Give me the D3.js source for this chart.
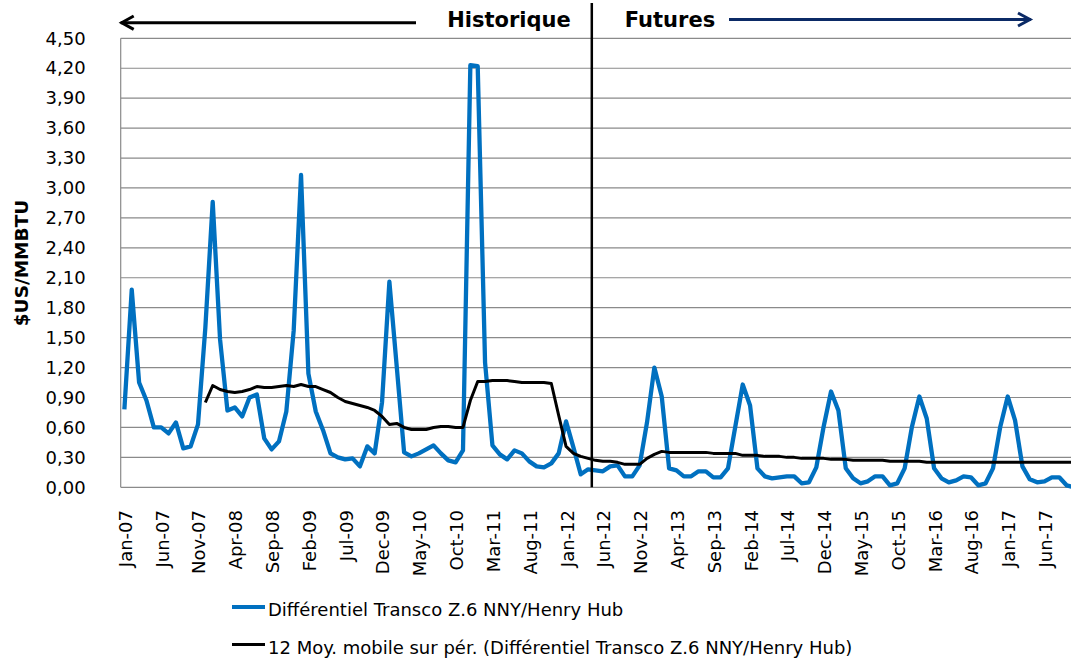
<!DOCTYPE html>
<html>
<head>
<meta charset="utf-8">
<script src="https://cdn.jsdelivr.net/npm/d3@7"></script>
<style>
  body { margin: 0; background: #fff; }
  svg { display: block; font-family: "DejaVu Sans", sans-serif; }
</style>
</head>
<body>
<svg width="1071" height="659"></svg>
<script>
// monthly categories, Jan-07 .. Oct-17
let months = d3.timeMonth.range(new Date(2007, 0, 1), new Date(2017, 10, 1));

// Différentiel Transco Z.6 NNY/Henry Hub ($US/MMBTU)
let diffValues = [
  0.78, 1.98, 1.05, 0.87, 0.60, 0.60, 0.54, 0.65, 0.39, 0.41, 0.63, 1.60,
  2.86, 1.48, 0.77, 0.80, 0.71, 0.90, 0.93, 0.49, 0.38, 0.46, 0.76, 1.57,
  3.13, 1.14, 0.76, 0.57, 0.34, 0.30, 0.28, 0.29, 0.21, 0.41, 0.34, 0.85,
  2.06, 1.21, 0.35, 0.31, 0.34, 0.38, 0.42, 0.34, 0.27, 0.25, 0.37, 4.23,
  4.22, 1.25, 0.42, 0.33, 0.28, 0.37, 0.34, 0.26, 0.21, 0.20, 0.24, 0.34,
  0.66, 0.40, 0.13, 0.18, 0.17, 0.16, 0.21, 0.22, 0.11, 0.11, 0.22, 0.65,
  1.20, 0.91, 0.19, 0.17, 0.11, 0.11, 0.16, 0.16, 0.10, 0.10, 0.19, 0.61,
  1.03, 0.82, 0.19, 0.11, 0.09, 0.10, 0.11, 0.11, 0.04, 0.05, 0.20, 0.61,
  0.96, 0.77, 0.19, 0.09, 0.04, 0.06, 0.11, 0.11, 0.02, 0.04, 0.19, 0.61,
  0.91, 0.69, 0.19, 0.09, 0.05, 0.07, 0.11, 0.10, 0.02, 0.04, 0.19, 0.61,
  0.91, 0.67, 0.21, 0.08, 0.05, 0.06, 0.10, 0.10, 0.02, 0.00
];

// 12 Moy. mobile sur pér. (starts Dec-07)
let maValues = [
  null, null, null, null, null, null, null, null, null, null, null, 0.85,
  1.02, 0.98, 0.96, 0.95, 0.96, 0.98, 1.01, 1.00, 1.00, 1.01, 1.02, 1.01,
  1.03, 1.01, 1.01, 0.98, 0.95, 0.90, 0.86, 0.84, 0.82, 0.80, 0.77, 0.71,
  0.63, 0.64, 0.60, 0.58, 0.58, 0.58, 0.60, 0.61, 0.61, 0.60, 0.60, 0.87,
  1.06, 1.06, 1.07, 1.07, 1.07, 1.06, 1.05, 1.05, 1.05, 1.05, 1.04, 0.72,
  0.41, 0.34, 0.31, 0.29, 0.27, 0.26, 0.26, 0.25, 0.23, 0.23, 0.23, 0.29,
  0.33, 0.36, 0.35, 0.35, 0.35, 0.35, 0.35, 0.35, 0.34, 0.34, 0.34, 0.34,
  0.32, 0.32, 0.32, 0.31, 0.31, 0.31, 0.30, 0.30, 0.29, 0.29, 0.29, 0.29,
  0.28, 0.28, 0.28, 0.27, 0.27, 0.27, 0.27, 0.27, 0.26, 0.26, 0.26, 0.26,
  0.26, 0.25, 0.25, 0.25, 0.25, 0.25, 0.25, 0.25, 0.25, 0.25, 0.25, 0.25,
  0.25, 0.25, 0.25, 0.25, 0.25, 0.25, 0.25, 0.25, 0.25, 0.25
];

let yTicks = [0, 0.3, 0.6, 0.9, 1.2, 1.5, 1.8, 2.1, 2.4, 2.7, 3.0, 3.3, 3.6, 3.9, 4.2, 4.5];
let tickEvery = 5;           // one x label every 5 months
let futuresStart = new Date(2012, 4, 1);

let seriesNames = [
  "Différentiel Transco Z.6 NNY/Henry Hub",
  "12 Moy. mobile sur pér. (Différentiel Transco Z.6 NNY/Henry Hub)"
];

let plotLeft = 120.7, plotTop = 38.3, plotBottom = 487.3,
    bandW = 7.361,
    plotRight = plotLeft + months.length * bandW;

const svg = d3.select("svg");
const fr = d3.formatLocale({decimal: ",", thousands: " ", grouping: [3], currency: ["", "$"]});
const fmt = fr.format(".2f");
const monthFmt = d3.timeFormat("%b-%y");

let x = d3.scaleBand()
    .domain(months.map(d => +d))
    .range([plotLeft, plotRight]);
let cx = d => x(+d) + x.bandwidth() / 2;

let y = d3.scaleLinear()
    .domain([0, 4.5])
    .range([plotBottom, plotTop]);

// gridlines
svg.append("g")
    .selectAll("line")
    .data(yTicks.slice(1))
    .enter()
    .append("line")
    .attr("x1", plotLeft)
    .attr("x2", plotRight)
    .attr("y1", d => y(d))
    .attr("y2", d => y(d))
    .attr("stroke", "#8a8a8a")
    .attr("stroke-width", 1.2);

// plot frame (left + bottom)
svg.append("line")
    .attr("x1", plotLeft).attr("x2", plotLeft)
    .attr("y1", plotTop).attr("y2", plotBottom)
    .attr("stroke", "#8a8a8a").attr("stroke-width", 1.2);
svg.append("line")
    .attr("x1", plotLeft).attr("x2", plotRight)
    .attr("y1", plotBottom).attr("y2", plotBottom)
    .attr("stroke", "#8a8a8a").attr("stroke-width", 1.2);

// y axis labels
let yAxis = svg.append("g")
    .attr("transform", `translate(${plotLeft},0)`)
    .call(d3.axisLeft(y).tickValues(yTicks).tickFormat(fmt).tickSize(0).tickPadding(35));
yAxis.select(".domain").remove();
yAxis.selectAll("text")
    .attr("font-family", "DejaVu Sans")
    .attr("font-size", 18)
    .attr("fill", "#000");

// y title
svg.append("text")
    .attr("transform", `translate(28,263) rotate(-90)`)
    .attr("text-anchor", "middle")
    .attr("font-weight", "bold")
    .attr("font-size", 18.5)
    .text("$US/MMBTU");

// x labels
svg.append("g")
    .selectAll("text")
    .data(months.filter((d, i) => i % tickEvery === 0))
    .enter()
    .append("text")
    .attr("transform", d => `translate(${cx(d) + 1},510) rotate(-90)`)
    .attr("text-anchor", "end")
    .attr("dy", "0.36em")
    .attr("font-size", 18)
    .text(d => monthFmt(d));

// lines
let diffLine = d3.line()
    .x((d, i) => cx(months[i]))
    .y(d => y(d));
let maLine = d3.line()
    .defined(d => d !== null)
    .x((d, i) => cx(months[i]))
    .y(d => y(d));

svg.append("path")
    .datum(diffValues)
    .attr("fill", "none")
    .attr("stroke", "#0070C0")
    .attr("stroke-width", 4.3)
    .attr("stroke-linejoin", "round")
    .attr("d", diffLine);

svg.append("path")
    .datum(maValues)
    .attr("fill", "none")
    .attr("stroke", "#000")
    .attr("stroke-width", 3)
    .attr("stroke-linejoin", "round")
    .attr("d", maLine);

// Historique / Futures header
let splitX = x(+futuresStart);
svg.append("line")
    .attr("x1", splitX).attr("x2", splitX)
    .attr("y1", 3).attr("y2", plotBottom)
    .attr("stroke", "#000").attr("stroke-width", 2.5);

svg.append("text")
    .attr("x", splitX - 21).attr("y", 27)
    .attr("text-anchor", "end")
    .attr("font-weight", "bold")
    .attr("font-size", 21)
    .text("Historique");
svg.append("text")
    .attr("x", splitX + 33).attr("y", 27)
    .attr("font-weight", "bold")
    .attr("font-size", 21)
    .text("Futures");

// left arrow (black)
svg.append("line")
    .attr("x1", plotLeft).attr("x2", 416)
    .attr("y1", 22.7).attr("y2", 22.7)
    .attr("stroke", "#000").attr("stroke-width", 3);
svg.append("path")
    .attr("d", `M${plotLeft + 13},16 L${plotLeft + 1},22.7 L${plotLeft + 13},29.4`)
    .attr("fill", "none").attr("stroke", "#000").attr("stroke-width", 3);

// right arrow (navy)
svg.append("line")
    .attr("x1", 729).attr("x2", 1031)
    .attr("y1", 19.5).attr("y2", 19.5)
    .attr("stroke", "#0B2A66").attr("stroke-width", 3);
svg.append("path")
    .attr("d", `M1018,13 L1030,19.5 L1018,26`)
    .attr("fill", "none").attr("stroke", "#0B2A66").attr("stroke-width", 3);

// legend
let legendColors = ["#0070C0", "#000"];
let legend = svg.append("g")
    .selectAll("g")
    .data(seriesNames)
    .enter()
    .append("g")
    .attr("transform", (d, i) => `translate(232,${616 + i * 37.5})`);
legend.append("line")
    .attr("x1", 0).attr("x2", 33)
    .attr("y1", -9).attr("y2", -9)
    .attr("stroke", (d, i) => legendColors[i])
    .attr("stroke-width", (d, i) => i === 0 ? 4 : 3);
legend.append("text")
    .attr("x", 36)
    .attr("font-size", 18)
    .text(d => d);
</script>
</body>
</html>
